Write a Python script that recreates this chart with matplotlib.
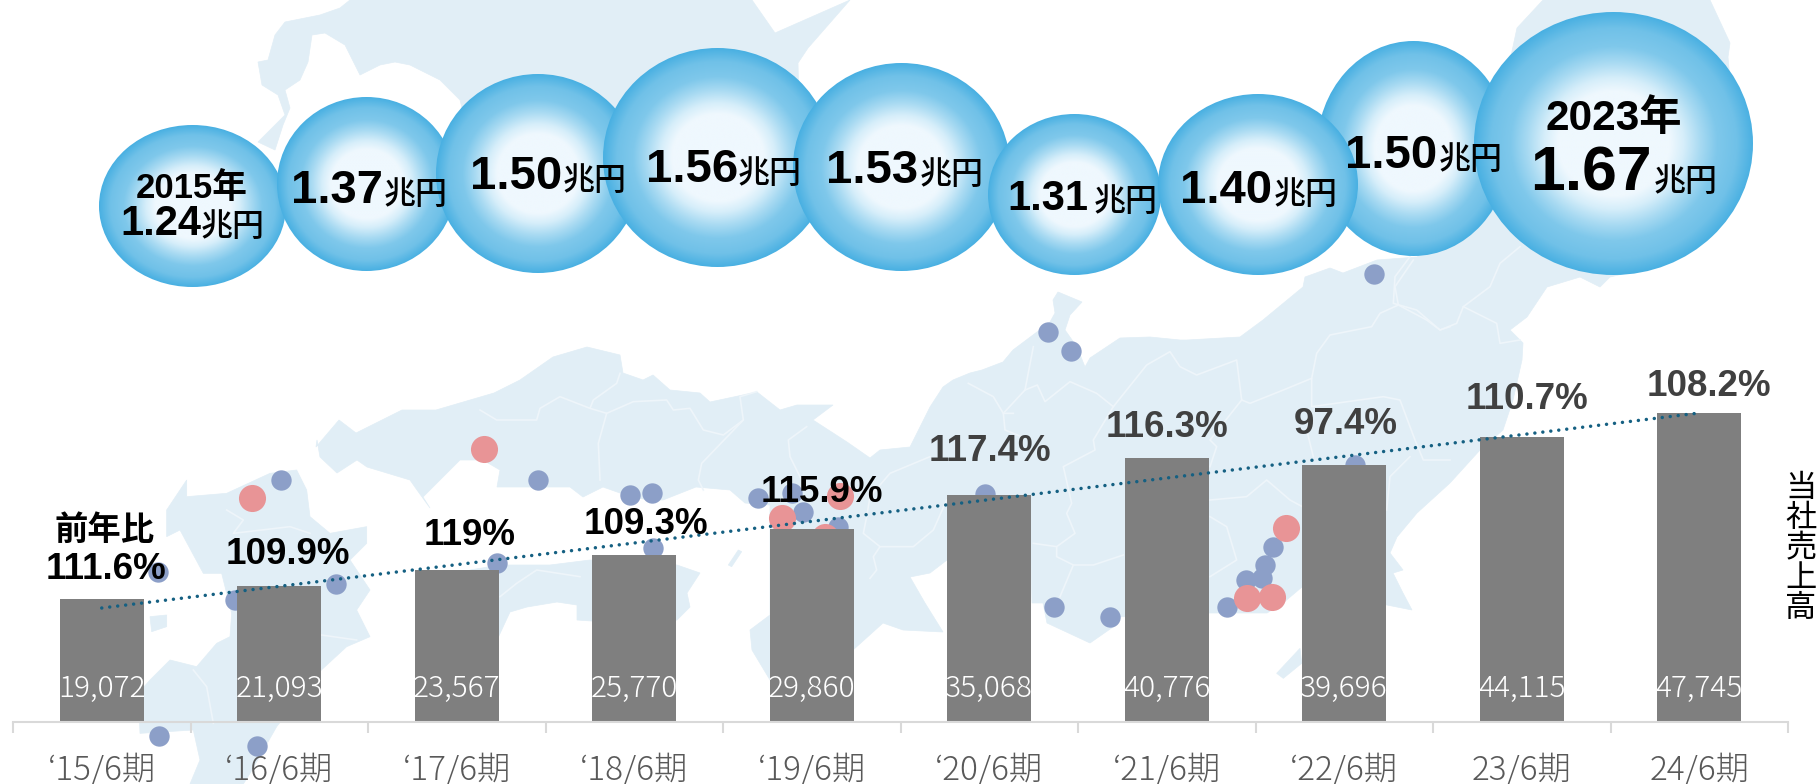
"""Sales bars with yoy labels, market-size bubbles and a pale map of Japan behind."""
import matplotlib
matplotlib.use("Agg")
import matplotlib.pyplot as plt
import numpy as np
from matplotlib.colors import to_rgb
from matplotlib.patches import Ellipse, Polygon

W, H = 1819, 784

# chart data
periods = ["‘15/6期", "‘16/6期", "‘17/6期", "‘18/6期", "‘19/6期",
           "‘20/6期", "‘21/6期", "‘22/6期", "23/6期", "24/6期"]
sales = [19072, 21093, 23567, 25770, 29860, 35068, 40776, 39696, 44115, 47745]
yoy = ["111.6%", "109.9%", "119%", "109.3%", "115.9%",
       "117.4%", "116.3%", "97.4%", "110.7%", "108.2%"]
market = ["1.24", "1.37", "1.50", "1.56", "1.53", "1.31", "1.40", "1.50", "1.67"]
trend_ends = [17620, 47760]

# label placement in picture pixels
yoy_x = [106, 288, 470, 646, 822, 990, 1167, 1346, 1527, 1709]
yoy_y = [579, 564, 545, 534, 502, 461, 437, 434, 409, 396]
# left, right, top, bottom of each bubble
bubble_boxes = [(99, 286, 125, 287), (277, 456, 97, 271), (436, 640, 74, 273),
                (603, 832, 48, 267), (793, 1010, 63, 271), (988, 1161, 114, 275),
                (1158, 1358, 94, 275), (1317, 1510, 41, 256), (1474, 1753, 12, 275)]
bubble_order = [0, 1, 2, 3, 4, 5, 7, 6, 8]
# number right edge, baseline, number size, unit left edge
bubble_text = [(201, 235, 30, 202), (383, 203, 34, 385), (562, 189, 34, 564),
               (738, 182, 34, 739), (918, 183, 34, 921), (1088, 210, 30, 1095),
               (1272, 203, 34, 1275), (1437, 168, 34, 1440), (1652, 190, 45, 1655)]

MAP_BLUE = "#E1EEF6"
MAP_LINE = "#EEF5FA"
DOT_BLUE = "#8C9FC8"
DOT_RED = "#E89496"
SANS = ["Liberation Sans", "Noto Sans CJK JP"]
CJK = "Noto Sans CJK JP"


def crop(x0, y0, pts):
    return [(x0 + x / 3, y0 + y / 3) for x, y in pts]


north_asia = [(350, 0), (340, 8), (320, 15), (285, 22), (275, 35), (268, 60), (258, 62),
              (262, 85), (278, 95), (285, 115), (270, 130), (258, 142), (275, 150),
              (283, 125), (290, 108), (285, 90), (300, 80), (308, 62), (312, 35), (325, 33),
              (345, 45), (360, 75), (380, 65), (395, 62), (410, 65), (440, 80), (460, 100),
              (465, 120), (500, 150), (800, 150), (798, 63), (808, 48), (850, 0), (775, 33),
              (752, 0)]
honshu = [(317, 440), (316, 447), (339, 420), (356, 433), (402, 410), (436, 410), (494, 393),
          (520, 380), (553, 357), (587, 347), (620, 355), (623, 373), (643, 380), (653, 375),
          (670, 390), (700, 393), (710, 402), (757, 392), (780, 410), (797, 405), (833, 405),
          (813, 420), (847, 442), (870, 458), (880, 450), (910, 447), (930, 407), (943, 387),
          (953, 380), (970, 373), (982, 370), (1003, 362), (1013, 350), (1037, 332), (1050, 322),
          (1055, 313), (1053, 300), (1058, 292), (1082, 302), (1070, 315), (1065, 330), (1077, 347),
          (1085, 367), (1090, 358), (1120, 338), (1150, 337), (1180, 340), (1187, 340), (1240, 337),
          (1263, 320), (1303, 287), (1305, 277), (1330, 268), (1343, 273), (1377, 260), (1417, 257),
          (1480, 200), (1517, 28), (1543, 0), (1710, 0), (1730, 43), (1728, 57), (1730, 80),
          (1700, 200), (1640, 270), (1610, 277), (1600, 287), (1580, 277), (1547, 287), (1527, 317),
          (1510, 330), (1523, 343), (1522, 360), (1513, 400), (1503, 430), (1480, 450), (1450, 483),
          (1417, 513), (1397, 537), (1390, 553), (1403, 570), (1393, 573), (1403, 593), (1412, 610),
          (1387, 605), (1302, 587), (1283, 603), (1267, 613), (1210, 613), (1117, 617), (1113, 627),
          (1090, 643), (1047, 623), (1043, 603), (1032, 603), (1031, 560), (947, 560), (930, 573),
          (910, 577), (925, 603), (943, 632), (903, 630), (883, 623), (853, 650), (790, 690),
          (770, 680), (752, 650), (750, 630), (770, 615), (770, 505), (745, 503), (730, 490),
          (696, 487), (663, 500), (647, 500), (620, 493), (603, 487), (583, 497), (570, 487),
          (523, 487), (497, 487), (500, 470), (483, 460), (460, 460), (437, 483), (423, 497),
          (430, 508), (417, 490), (410, 480), (367, 467), (357, 460), (337, 473), (320, 457)]
shikoku = [(470, 570), (500, 565), (550, 565), (590, 560), (677, 565), (700, 573), (687, 593),
           (690, 607), (677, 620), (650, 625), (577, 620), (577, 605), (557, 602), (527, 607),
           (510, 612), (497, 640), (490, 650), (470, 650)]
kyushu = crop(150, 440, [(50, 210), (110, 120), (110, 170), (230, 160), (360, 100), (440, 90),
                         (470, 150), (480, 230), (540, 280), (650, 260), (650, 310), (600, 360),
                         (640, 420), (660, 450), (620, 510), (660, 590), (590, 620), (514, 690),
                         (380, 860), (300, 1000), (280, 1032), (120, 1032), (150, 960), (130, 870),
                         (-30, 880), (-35, 760), (0, 720), (60, 660), (140, 680), (200, 610),
                         (240, 590), (245, 520), (215, 400), (160, 400), (90, 270), (50, 290)])
islands = [crop(950, 250, [(980, 1270), (1050, 1195), (1055, 1240), (1000, 1285)]),
           crop(480, 330, [(745, 705), (775, 660), (785, 665), (755, 710)]),
           crop(150, 440, [(0, 530), (50, 525), (50, 560), (5, 575)])]

borders = [
    crop(950, 250, [(55, 400), (130, 440), (160, 490), (190, 490)]),
    crop(950, 250, [(250, 290), (225, 420), (160, 490), (165, 540), (215, 560)]),
    crop(950, 250, [(225, 420), (262, 405), (285, 455), (360, 395), (440, 430), (490, 470), (590, 345),
                    (660, 305), (690, 350), (740, 375), (860, 330), (875, 450), (900, 460), (1000, 420),
                    (1085, 385), (1100, 310), (1140, 255), (1265, 230), (1290, 190), (1345, 165),
                    (1430, 210), (1470, 240), (1500, 230)]),
    crop(950, 250, [(1345, 165), (1335, 110), (1390, 30)]),
    crop(950, 250, [(490, 470), (430, 570), (435, 600), (340, 650), (365, 760), (350, 790),
                    (375, 850), (320, 890), (250, 880)]),
    crop(950, 250, [(320, 890), (320, 920), (370, 945), (330, 1040)]),
    crop(950, 250, [(370, 945), (430, 945), (520, 915)]),
    crop(950, 250, [(875, 450), (780, 570), (800, 590), (780, 650)]),
    crop(950, 250, [(780, 750), (890, 740), (950, 690), (1020, 750), (1057, 770)]),
    crop(950, 250, [(780, 800), (830, 830), (860, 930), (780, 980)]),
    crop(950, 250, [(1085, 385), (1085, 470), (1300, 440), (1350, 450), (1395, 570), (1420, 630), (1500, 630)]),
    crop(950, 250, [(1070, 540), (1090, 620)]),
    crop(950, 250, [(1380, 620), (1320, 680), (1310, 780)]),
    crop(1300, 0, [(660, 740), (600, 790), (570, 860), (490, 920), (470, 970), (420, 990), (350, 930),
                   (280, 910), (285, 830), (330, 770)]),
    crop(1300, 0, [(490, 920), (590, 970), (600, 1030), (660, 1020)]),
    crop(480, 330, [(0, 240), (50, 270), (170, 270), (180, 235), (240, 200), (330, 235), (380, 250),
                    (460, 215), (560, 210), (580, 240), (630, 235), (670, 300), (730, 315), (790, 270),
                    (780, 200), (830, 185)]),
    crop(480, 330, [(380, 250), (355, 340), (360, 450)]),
    crop(480, 330, [(330, 235), (340, 210), (410, 160), (420, 130)]),
    crop(480, 330, [(790, 270), (665, 400), (655, 450), (670, 480)]),
    crop(480, 330, [(980, 290), (925, 330), (930, 380), (980, 480)]),
    crop(480, 330, [(1350, 380), (1230, 430), (1170, 500), (1160, 560), (1150, 610), (1200, 650),
                    (1300, 650), (1360, 600), (1400, 510)]),
    crop(480, 330, [(1200, 650), (1180, 680), (1190, 720), (1170, 745)]),
    crop(480, 330, [(60, 800), (110, 760), (170, 720), (300, 740)]),
    crop(150, 440, [(230, 210), (280, 240), (250, 280), (420, 260), (480, 280)]),
    crop(150, 440, [(130, 690), (170, 740), (190, 850)]),
    crop(150, 440, [(514, 585), (620, 600)]),
]

blue_dots = [(281, 480), (336, 584), (235, 600), (497, 563), (538, 480), (159, 736), (257, 746),
             (158, 572), (630, 495), (652, 493), (653, 548), (758, 498), (792, 493), (803, 512),
             (838, 527), (985, 494), (1048, 332), (1071, 351), (1374, 274), (1054, 607), (1110, 617),
             (1227, 607), (1355, 465), (1273, 547), (1265, 565), (1262, 578), (1246, 580)]
red_dots = [(252, 498), (484, 449), (840, 496), (782, 518), (825, 537), (1286, 528), (1247, 598),
            (1272, 597), (1582, 257)]


def draw_map(ax):
    for pts in [north_asia, honshu, shikoku, kyushu] + islands:
        ax.add_patch(Polygon(pts, closed=True, fc=MAP_BLUE, ec=MAP_BLUE, lw=0.5, zorder=1))
    for line in borders:
        xs, ys = zip(*line)
        ax.plot(xs, ys, color=MAP_LINE, lw=1.2, zorder=2, solid_joinstyle="round")
    ax.scatter(*zip(*blue_dots), s=215, color=DOT_BLUE, lw=0, zorder=3)
    ax.scatter(*zip(*red_dots), s=380, color=DOT_RED, lw=0, zorder=3)


def draw_bubble(ax, box, z):
    x0, x1, y0, y1 = box
    n = 300
    yy, xx = np.mgrid[-1:1:n * 1j, -1:1:n * 1j]
    r = np.sqrt(xx ** 2 + yy ** 2)
    stops = [0, 0.40, 0.50, 0.62, 0.74, 0.88, 1.0, 1.5]
    cols = [to_rgb(c) for c in ["#EFF8FE", "#EFF8FE", "#D6EEFA", "#A8DAF2", "#7FC8EB",
                                "#70C1E8", "#49B0E2", "#49B0E2"]]
    img = np.dstack([np.interp(r, stops, [c[i] for c in cols]) for i in range(3)])
    im = ax.imshow(img, extent=(x0, x1, y1, y0), aspect="auto", zorder=z, interpolation="bilinear")
    clip = Ellipse(((x0 + x1) / 2, (y0 + y1) / 2), x1 - x0, y1 - y0, transform=ax.transData)
    im.set_clip_path(clip)


def main():
    fig = plt.figure(figsize=(W / 100, H / 100), dpi=100, facecolor="white")

    bg = fig.add_axes([0, 0, 1, 1], zorder=1)
    draw_map(bg)
    for z, i in enumerate(bubble_order):
        draw_bubble(bg, bubble_boxes[i], 10 + z)
    bg.set_xlim(0, W)
    bg.set_ylim(H, 0)
    bg.axis("off")

    # bars: baseline at y=722, 0.00647 px per unit, one category = 177.5 px
    ax = fig.add_axes([13 / W, (H - 722) / H, 1775 / W, 722 / H], zorder=2)
    ax.patch.set_alpha(0)
    x = np.arange(len(sales))
    ax.bar(x, sales, width=0.476, color="#7F7F7F", zorder=2)
    ax.plot([x[0], x[-1]], trend_ends, color="#156082", lw=2.5, zorder=3,
            linestyle=(0, (0.01, 2.3)), dash_capstyle="round")
    ax.set_xlim(-0.5, 9.5)
    ax.set_ylim(0, 722 / 0.00647)
    for s in ("top", "left", "right"):
        ax.spines[s].set_visible(False)
    ax.spines["bottom"].set_color("#D9D9D9")
    ax.spines["bottom"].set_linewidth(1.5)
    ax.set_yticks([])
    ax.set_xticks(x)
    ax.set_xticklabels(periods, fontsize=24, color="#595959", family=CJK, weight=300)
    ax.tick_params(axis="x", which="major", length=0, pad=22)
    ax.set_xticks(np.arange(-0.5, 10), minor=True)
    ax.tick_params(axis="x", which="minor", length=8, width=1.5, color="#D9D9D9")
    for i, v in enumerate(sales):
        ax.annotate(f"{v:,}", (i, 0), xytext=(0, 18), textcoords="offset points", ha="center",
                    va="baseline", fontsize=21.5, color="white", family=CJK, weight=300)

    top = fig.add_axes([0, 0, 1, 1], zorder=3)
    top.patch.set_alpha(0)
    top.set_xlim(0, W)
    top.set_ylim(H, 0)
    top.axis("off")

    # year-on-year labels
    for i, label in enumerate(yoy):
        top.text(yoy_x[i], yoy_y[i], label, ha="center", va="baseline", fontsize=26.5, weight="bold",
                 family=SANS, color="black" if i < 5 else "#404040")
    top.text(105, 540, "前年比", ha="center", va="baseline", fontsize=24, weight="bold", family=CJK)

    # bubble labels
    for (xr, yb, size, xu), value in zip(bubble_text, market):
        top.text(xr, yb, value, ha="right", va="baseline", fontsize=size, weight="bold", family=SANS)
        top.text(xu - 1, yb + 1, "兆円", ha="left", va="baseline", fontsize=23, weight=500, family=CJK)
    top.text(192, 198, "2015年", ha="center", va="baseline", fontsize=25, weight="bold", family=SANS)
    top.text(1614, 130, "2023年", ha="center", va="baseline", fontsize=30.5, weight="bold", family=SANS)

    top.text(1801, 548, "\n".join("当社売上高"), ha="center", va="center", fontsize=22.5,
             family=CJK, linespacing=0.92)

    fig.savefig("out.png", dpi=100)


if __name__ == "__main__":
    main()
